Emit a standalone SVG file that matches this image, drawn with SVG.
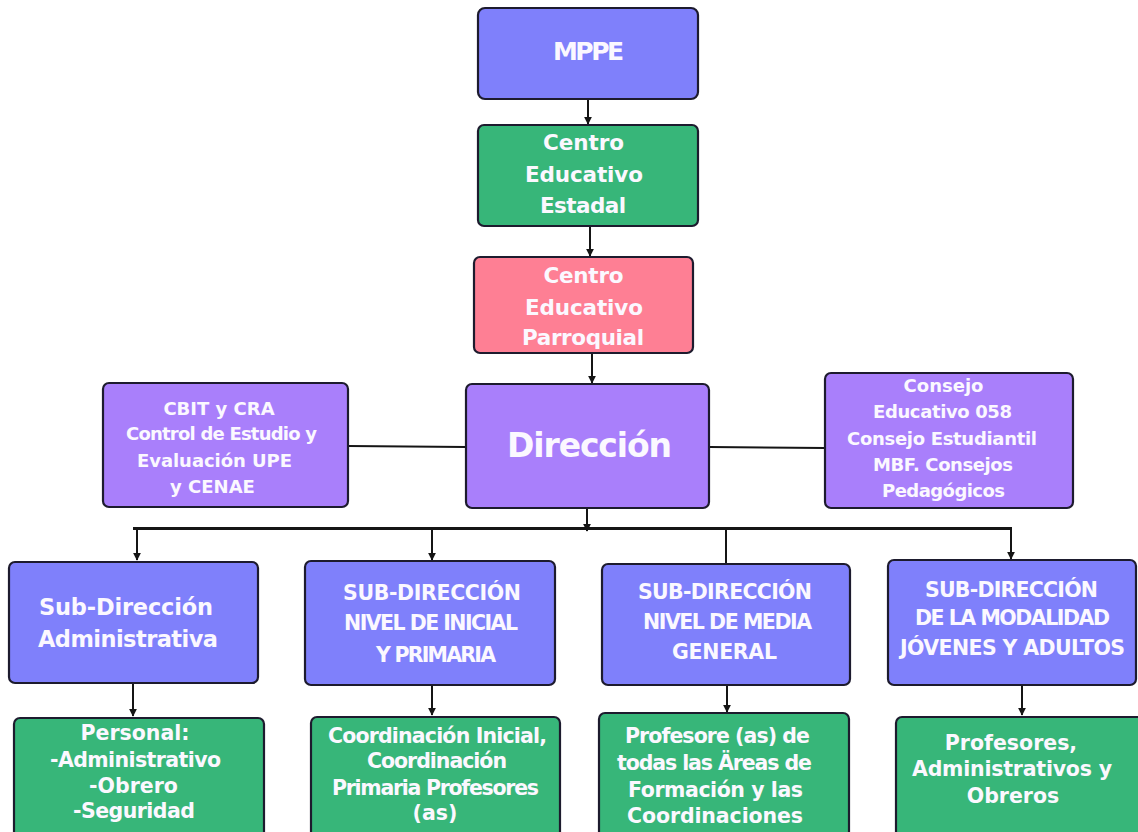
<svg xmlns="http://www.w3.org/2000/svg" width="1138" height="832" viewBox="0 0 1138 832">
<defs>
<marker id="ah" viewBox="0 0 10 10" refX="9" refY="5" markerWidth="8" markerHeight="8" orient="auto" markerUnits="userSpaceOnUse"><path d="M0,0 L10,5 L0,10 z" fill="#151515"/></marker>
<style>
.box{stroke:#1d1b2e;stroke-width:2.2}
.blue{fill:#7f80fb}
.green{fill:#37b679}
.pink{fill:#fe7f94}
.purple{fill:#a97ffb}
text{font-family:"DejaVu Sans","Open Sans",sans-serif;font-weight:700;fill:#fbf8ff;text-anchor:middle}
.t21{font-size:21.5px}
.t18{font-size:20.5px}
.t19{font-size:20.5px}
.t16{font-size:18px}
.c{stroke:#151515;stroke-width:2;fill:none}
</style>
</defs>
<rect width="1138" height="832" fill="#fff"/>
<g id="connectors">
<line class="c" x1="588" y1="99" x2="588" y2="124" marker-end="url(#ah)"/>
<line class="c" x1="590" y1="226" x2="590" y2="256" marker-end="url(#ah)"/>
<line class="c" x1="592" y1="353" x2="592" y2="383" marker-end="url(#ah)"/>
<line class="c" x1="348" y1="446" x2="466" y2="447"/>
<line class="c" x1="709" y1="447" x2="825" y2="448"/>
<line class="c" x1="587" y1="508" x2="587" y2="531" marker-end="url(#ah)"/>
<polyline class="c" points="133,528.5 1011,528.5" style="stroke-width:2.8"/>
<line class="c" x1="137" y1="528" x2="137" y2="560" marker-end="url(#ah)"/>
<line class="c" x1="432" y1="528" x2="432" y2="560" marker-end="url(#ah)"/>
<line class="c" x1="726" y1="528" x2="726" y2="564"/>
<line class="c" x1="1011" y1="527" x2="1011" y2="559" marker-end="url(#ah)"/>
<line class="c" x1="133" y1="684" x2="133" y2="716" marker-end="url(#ah)"/>
<line class="c" x1="432" y1="686" x2="432" y2="715" marker-end="url(#ah)"/>
<line class="c" x1="727" y1="686" x2="727" y2="712" marker-end="url(#ah)"/>
<line class="c" x1="1022" y1="686" x2="1022" y2="715" marker-end="url(#ah)"/>
</g>
<g id="mppe">
<rect class="box blue" x="478" y="8" width="220" height="91" rx="7"/>
<text x="588.5" y="60" style="font-size:25px" textLength="71">MPPE</text>
</g>
<g id="estadal">
<rect class="box green" x="478" y="125" width="220" height="101" rx="6"/>
<text class="t21" x="583.5" y="150" textLength="81">Centro</text>
<text class="t21" x="584" y="182" textLength="118">Educativo</text>
<text class="t21" x="583" y="213" textLength="86">Estadal</text>
</g>
<g id="parroquial">
<rect class="box pink" x="474" y="257" width="219" height="96" rx="6"/>
<text class="t21" x="583.5" y="283" textLength="80">Centro</text>
<text class="t21" x="584" y="315" textLength="118">Educativo</text>
<text class="t21" x="583" y="345" textLength="122">Parroquial</text>
</g>
<g id="direccion">
<rect class="box purple" x="466" y="384" width="243" height="124" rx="6"/>
<text x="589.5" y="457" style="font-size:33px" textLength="165">Dirección</text>
</g>
<g id="cbit">
<rect class="box purple" x="103" y="383" width="245" height="124" rx="6"/>
<text class="t16" x="219" y="415">CBIT y CRA</text>
<text class="t16" x="221.5" y="440" textLength="191">Control de Estudio y</text>
<text class="t16" x="214.5" y="467" textLength="155">Evaluación UPE</text>
<text class="t16" x="212.5" y="493">y CENAE</text>
</g>
<g id="consejo">
<rect class="box purple" x="825" y="373" width="248" height="135" rx="6"/>
<text class="t16" x="943.5" y="392">Consejo</text>
<text class="t16" x="942.5" y="418" textLength="139">Educativo 058</text>
<text class="t16" x="942" y="445" textLength="190">Consejo Estudiantil</text>
<text class="t16" x="943" y="471" textLength="140">MBF. Consejos</text>
<text class="t16" x="943.5" y="497" textLength="123">Pedagógicos</text>
</g>
<g id="sub-admin">
<rect class="box blue" x="9" y="562" width="249" height="121" rx="6"/>
<text x="126" y="615" style="font-size:22.5px" textLength="174">Sub-Dirección</text>
<text x="128" y="647" style="font-size:22.5px" textLength="180">Administrativa</text>
</g>
<g id="sub-inicial">
<rect class="box blue" x="305" y="561" width="250" height="124" rx="6"/>
<text class="t18" x="432" y="600" textLength="178">SUB-DIRECCIÓN</text>
<text class="t18" x="431" y="630" textLength="174">NIVEL DE INICIAL</text>
<text class="t18" x="436" y="662" textLength="120">Y PRIMARIA</text>
</g>
<g id="sub-media">
<rect class="box blue" x="602" y="564" width="248" height="121" rx="6"/>
<text class="t18" x="725" y="599" textLength="174">SUB-DIRECCIÓN</text>
<text class="t18" x="727.5" y="629" textLength="169">NIVEL DE MEDIA</text>
<text class="t18" x="724.5" y="659" textLength="105">GENERAL</text>
</g>
<g id="sub-adultos">
<rect class="box blue" x="888" y="560" width="248" height="125" rx="6"/>
<text class="t18" x="1011.5" y="597" textLength="173">SUB-DIRECCIÓN</text>
<text class="t18" x="1012.5" y="625" textLength="195">DE LA MODALIDAD</text>
<text class="t18" x="1012.5" y="655" textLength="225">JÓVENES Y ADULTOS</text>
</g>
<g id="personal">
<rect class="box green" x="14" y="718" width="250" height="125" rx="6"/>
<text class="t19" x="135" y="740">Personal:</text>
<text class="t19" x="135.5" y="767" textLength="171">-Administrativo</text>
<text class="t19" x="133.5" y="793">-Obrero</text>
<text class="t19" x="134" y="818" textLength="122">-Seguridad</text>
</g>
<g id="coord-inicial">
<rect class="box green" x="311" y="717" width="249" height="126" rx="6"/>
<text class="t19" x="437.5" y="743" textLength="219">Coordinación Inicial,</text>
<text class="t19" x="437" y="768" textLength="140">Coordinación</text>
<text class="t19" x="435.5" y="795" textLength="207">Primaria Profesores</text>
<text class="t19" x="435" y="820">(as)</text>
</g>
<g id="profesores-media">
<rect class="box green" x="599" y="713" width="250" height="130" rx="6"/>
<text class="t19" x="717.5" y="743" textLength="185">Profesore (as) de</text>
<text class="t19" x="714.5" y="770" textLength="195">todas las Äreas de</text>
<text class="t19" x="715.5" y="797" textLength="175">Formación y las</text>
<text class="t19" x="715" y="823" textLength="176">Coordinaciones</text>
</g>
<g id="profesores-adultos">
<rect class="box green" x="896" y="717" width="250" height="126" rx="6"/>
<text class="t19" x="1011" y="750">Profesores,</text>
<text class="t19" x="1012" y="776" textLength="200">Administrativos y</text>
<text class="t19" x="1013" y="803">Obreros</text>
</g>
</svg>
